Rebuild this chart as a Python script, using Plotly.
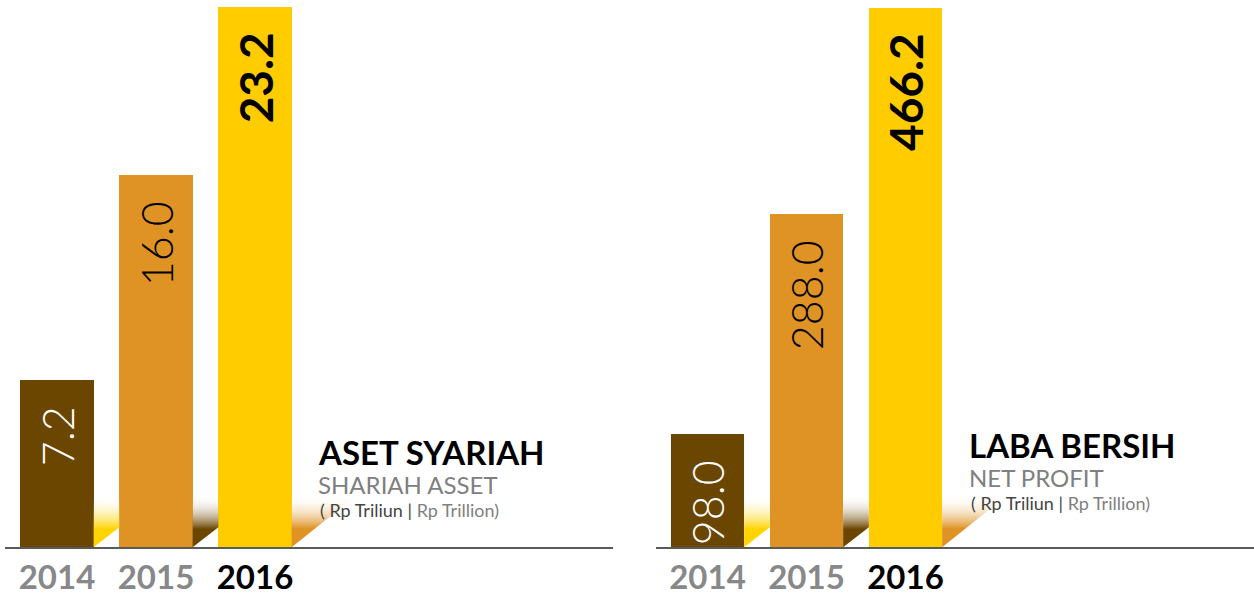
import plotly.graph_objects as go

# ---------------- data ----------------
years = ["2014", "2015", "2016"]
aset_syariah = [7.2, 16.0, 23.2]          # Rp Triliun
laba_bersih = [98.0, 288.0, 466.2]        # Rp Triliun

# ---------------- style ----------------
W, H = 1254, 596
BASE_PX = 550                      # baseline, px from top
PLOT_H = BASE_PX                   # plot area height in px (top of fig to baseline)
bar_colors = ["#6B4600", "#DE9324", "#FFCC00"]
shade_colors = ["#FFD400", "#6B4600", "#DE9324"]  # fold shading to the right of each bar
text_colors = ["white", "black", "black"]
text_sizes = [43, 43, 46]
year_colors = ["#87888A", "#87888A", "#000000"]
FONT = "Lato"
PX_PER_CAT = 99.0
BAR_W = 0.74

panels = [
    dict(vals=aset_syariah, xdom_px=(5, 613), c0_px=57, ymax=23.2 * 550 / 543,
         title="ASET SYARIAH", sub="SHARIAH ASSET", tx=316, ty=455),
    dict(vals=laba_bersih, xdom_px=(656, 1254), c0_px=707.5, ymax=466.2 * 550 / 542,
         title="LABA BERSIH", sub="NET PROFIT", tx=967, ty=448),
]

fig = go.Figure()
NB = "\u00a0\u00a0"

for i, p in enumerate(panels, start=1):
    xa = "x" if i == 1 else f"x{i}"
    ya = "y" if i == 1 else f"y{i}"
    xs = list(range(len(years)))
    labels = []
    for k, v in enumerate(p["vals"]):
        s = f"{v:.1f}" + NB
        labels.append(f"<b>{s}</b>" if k == len(years) - 1 else s)
    fig.add_trace(go.Bar(
        x=xs, y=p["vals"], width=BAR_W, marker=dict(color=bar_colors, line=dict(width=0)),
        text=labels, textposition="inside", insidetextanchor="end", textangle=-90,
        textfont=dict(family=FONT, size=text_sizes, color=text_colors, weight=300),
        constraintext="none", cliponaxis=False, hoverinfo="skip",
        xaxis=xa, yaxis=ya, showlegend=False,
    ))

    # fold shading (decorative), built from bar positions
    py = p["ymax"] / PLOT_H   # data units per pixel (y)
    px = 1.0 / PX_PER_CAT     # data units per pixel (x)
    for k in range(len(years)):
        xr = xs[k] + BAR_W / 2
        if k < len(years) - 1:
            gap = (xs[k + 1] - BAR_W / 2) - xr
            sx = [xr, xr + gap, xr + gap, xr, xr]
            sy = [0, gap / px * 0.78 * py, 52 * py, 52 * py, 0]
        else:
            sx = [xr, xr + 66 * px, xr, xr]
            sy = [0, 53 * py, 53 * py, 0]
        fig.add_trace(go.Scatter(
            x=sx, y=sy, mode="lines", line=dict(width=0), fill="toself",
            fillgradient=dict(type="vertical",
                              colorscale=[[0, shade_colors[k]], [0.35, shade_colors[k]], [1, "rgba(255,255,255,0)"]]),
            hoverinfo="skip", showlegend=False, xaxis=xa, yaxis=ya,
        ))

    x0, x1 = p["xdom_px"]
    r0 = -(p["c0_px"] - x0) / PX_PER_CAT
    r1 = r0 + (x1 - x0) / PX_PER_CAT
    ticktext = [f"<span style='color:{year_colors[k]}'><b>{y}</b></span>" for k, y in enumerate(years)]
    fig.update_layout({
        ("xaxis" if i == 1 else f"xaxis{i}"): dict(
            domain=[x0 / W, x1 / W], range=[r0, r1], tickvals=xs, ticktext=ticktext,
            showgrid=False, zeroline=False, showline=True, linecolor="#5A5A5A", linewidth=2,
            ticks="", tickfont=dict(family=FONT, size=33), anchor=ya, fixedrange=True,
        ),
        ("yaxis" if i == 1 else f"yaxis{i}"): dict(
            domain=[(H - BASE_PX) / H, 1], range=[0, p["ymax"]], visible=False,
            anchor=xa, fixedrange=True,
        ),
    })

    # titles
    fig.add_annotation(xref="paper", yref="paper", x=p["tx"] / W, y=1 - (p["ty"] - 1) / H,
                       xanchor="left", yanchor="middle", showarrow=False,
                       text=f"<b>{p['title']}</b>", font=dict(family=FONT, size=33, color="#000000"))
    fig.add_annotation(xref="paper", yref="paper", x=p["tx"] / W, y=1 - (p["ty"] + 32) / H,
                       xanchor="left", yanchor="middle", showarrow=False,
                       text=p["sub"], font=dict(family=FONT, size=24, color="#808080"))
    fig.add_annotation(xref="paper", yref="paper", x=(p["tx"] + 2) / W, y=1 - (p["ty"] + 58) / H,
                       xanchor="left", yanchor="middle", showarrow=False,
                       text="<span style='color:#444444'>( Rp Triliun |</span> <span style='color:#808080'>Rp Trillion)</span>",
                       font=dict(family=FONT, size=18))

fig.update_layout(
    width=W, height=H, margin=dict(l=0, r=0, t=0, b=0),
    paper_bgcolor="white", plot_bgcolor="white", bargap=0,
)

fig.write_html("out.html", config={"displayModeBar": False},
               post_script="document.body.style.margin='0';document.body.style.overflow='hidden';")
